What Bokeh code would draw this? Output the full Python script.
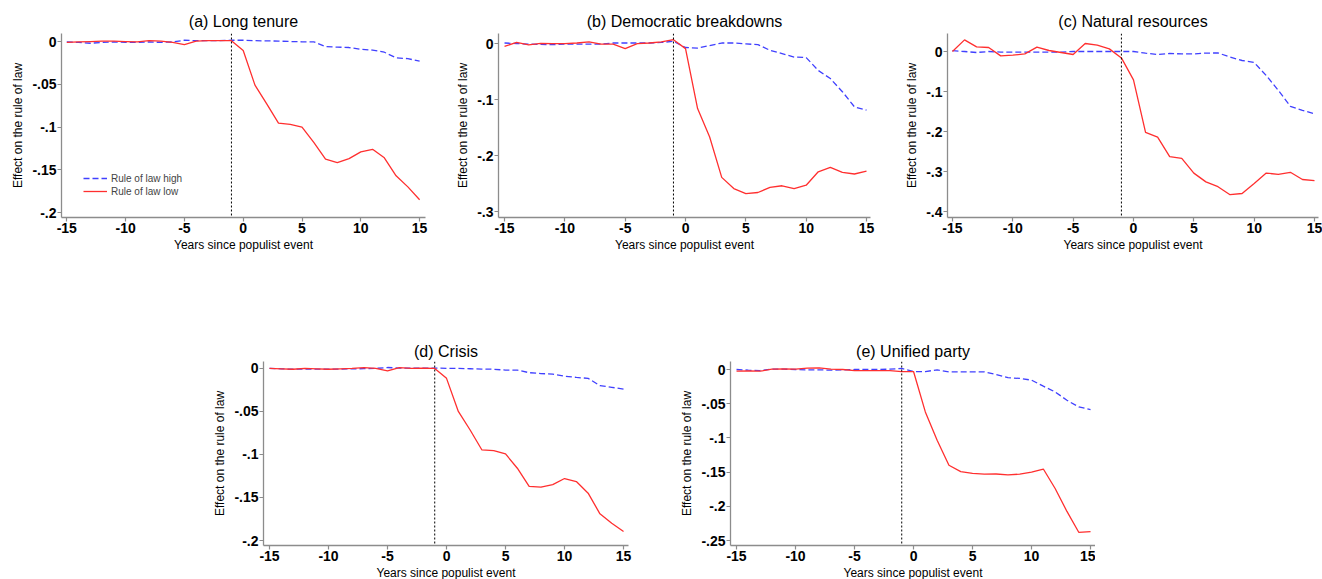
from bokeh.plotting import figure
from bokeh.models import Range1d, FixedTicker, Span, Legend, LegendItem, Spacer
from bokeh.layouts import row, column
from bokeh.embed import file_html
from bokeh.resources import INLINE

years = list(range(-15, 16))

titles = ["(a) Long tenure", "(b) Democratic breakdowns", "(c) Natural resources",
          "(d) Crisis", "(e) Unified party"]

a_high = [-0.0005, -0.001, -0.002, -0.001, -0.0005, -0.001, -0.001, -0.0005, -0.001, -0.0005,
          0.0015, 0.001, 0.001, 0.001, 0.0015, 0.0015, 0.001, 0.0008, 0.0005, 0.0, -0.0003,
          -0.0003, -0.006, -0.0065, -0.007, -0.009, -0.010, -0.0125, -0.019, -0.020, -0.023]
a_low = [-0.001, -0.0005, 0.0, 0.0005, 0.0005, 0.0, -0.0005, 0.001, 0.0005, -0.001,
         -0.0035, 0.0005, 0.001, 0.001, 0.001, -0.0105, -0.051, -0.073, -0.0955, -0.097, -0.100,
         -0.118, -0.1376, -0.1415, -0.137, -0.129, -0.126, -0.136, -0.157, -0.170, -0.185]

b_high = [0.001, 0.0, -0.001, -0.0015, -0.002, -0.001, -0.001, -0.001, -0.001, 0.001,
          0.001, 0.001, 0.001, 0.002, 0.004, -0.007, -0.008, -0.0035, 0.001, 0.001, -0.0005,
          -0.002, -0.012, -0.018, -0.024, -0.025, -0.048, -0.0625, -0.086, -0.113, -0.119]
b_low = [-0.005, 0.002, -0.0025, 0.0005, 0.0, 0.0, 0.001, 0.003, -0.001, -0.001,
         -0.009, 0.0, 0.001, 0.003, 0.007, -0.009, -0.116, -0.167, -0.239, -0.259, -0.268,
         -0.266, -0.257, -0.254, -0.259, -0.253, -0.229, -0.221, -0.230, -0.233, -0.228]

c_high = [0.002, 0.0, -0.0025, 0.0, -0.0015, -0.0015, -0.0015, -0.0015, -0.0015, -0.0015,
          0.0, 0.0, 0.0, 0.0, 0.0, 0.0, -0.004, -0.0075, -0.005, -0.006, -0.006,
          -0.004, -0.0035, -0.014, -0.0225, -0.0275, -0.060, -0.097, -0.137, -0.147, -0.1555]
c_low = [0.0, 0.029, 0.0116, 0.010, -0.011, -0.009, -0.006, 0.011, 0.0025, -0.0025,
         -0.0075, 0.020, 0.016, 0.0066, -0.016, -0.071, -0.202, -0.214, -0.263, -0.267, -0.304,
         -0.326, -0.338, -0.358, -0.355, -0.330, -0.304, -0.307, -0.302, -0.320, -0.323]

d_high = [0.0, -0.0005, -0.001, -0.0008, -0.0008, -0.001, -0.0008, -0.0006, -0.0003, 0.0,
          0.001, 0.0004, 0.0004, 0.0004, 0.0004, 0.0, 0.0, -0.0004, -0.0008, -0.001, -0.002,
          -0.002, -0.005, -0.006, -0.0066, -0.009, -0.0105, -0.0116, -0.020, -0.022, -0.024]
d_low = [0.0, -0.0005, -0.001, 0.0, -0.0005, -0.001, -0.0005, 0.0, 0.001, 0.0,
         -0.003, 0.001, 0.0, 0.0004, 0.0, -0.0116, -0.050, -0.0716, -0.0948, -0.0955, -0.0994,
         -0.116, -0.137, -0.138, -0.135, -0.128, -0.1315, -0.145, -0.169, -0.180, -0.1895]

e_high = [0.0, -0.001, -0.0015, 0.0005, 0.0005, 0.0, -0.0005, -0.0005, -0.001, -0.0005,
          0.0, 0.0, 0.0, 0.0005, 0.0015, -0.003, -0.003, -0.0005, -0.0035, -0.0035, -0.0035,
          -0.0035, -0.0073, -0.012, -0.013, -0.0156, -0.0244, -0.0327, -0.045, -0.0547, -0.0586]
e_low = [-0.0025, -0.002, -0.0025, 0.0005, 0.001, 0.0005, 0.002, 0.0025, 0.0005, 0.0,
         -0.0015, -0.0015, -0.0015, -0.0015, -0.003, -0.003, -0.062, -0.1035, -0.140, -0.1494, -0.152,
         -0.153, -0.1528, -0.154, -0.153, -0.150, -0.1455, -0.174, -0.2075, -0.238, -0.237]

x_ticks = [-15, -10, -5, 0, 5, 10, 15]
y_ticks_a = [0, -0.05, -0.1, -0.15, -0.2]
y_labels_a = ["0", "-.05", "-.1", "-.15", "-.2"]
y_ticks_b = [0, -0.1, -0.2, -0.3]
y_labels_b = ["0", "-.1", "-.2", "-.3"]
y_ticks_c = [0, -0.1, -0.2, -0.3, -0.4]
y_labels_c = ["0", "-.1", "-.2", "-.3", "-.4"]
y_ticks_e = [0, -0.05, -0.1, -0.15, -0.2, -0.25]
y_labels_e = ["0", "-.05", "-.1", "-.15", "-.2", "-.25"]

FONT = "Liberation Sans"
RED = "#ff2f2f"
BLUE = "#4040ff"
AXIS = "#8c8c8c"


def panel(title, high, low, yticks, ylabels, xr, yr, fw, fh, left, right, top, bottom,
          title_standoff=3, legend=False):
    p = figure(output_backend="svg", toolbar_location=None,
               frame_width=fw, frame_height=fh,
               min_border_left=left, min_border_right=right,
               min_border_top=top, min_border_bottom=bottom,
               x_range=Range1d(*xr), y_range=Range1d(*yr),
               title=title)
    p.outline_line_color = None
    p.grid.visible = False
    p.background_fill_color = "white"
    p.border_fill_color = "white"
    p.title.text_font = FONT
    p.title.text_font_size = "16px"
    p.title.text_font_style = "normal"
    p.title.text_color = "black"
    p.title.align = "center"
    p.title.standoff = title_standoff
    p.title.offset = 0

    p.xaxis.ticker = FixedTicker(ticks=x_ticks)
    p.xaxis.major_label_overrides = {t: str(t) for t in x_ticks}
    p.yaxis.ticker = FixedTicker(ticks=yticks)
    p.yaxis.major_label_overrides = {t: l for t, l in zip(yticks, ylabels)}
    p.xaxis.axis_label = "Years since populist event"
    p.yaxis.axis_label = "Effect on the rule of law"
    for ax in (p.xaxis, p.yaxis):
        ax.axis_line_color = AXIS
        ax.axis_line_width = 1.3
        ax.major_tick_line_color = AXIS
        ax.major_tick_line_width = 1.2
        ax.major_tick_out = 4
        ax.major_tick_in = 0
        ax.minor_tick_line_color = None
        ax.major_label_text_font = FONT
        ax.major_label_text_font_size = "14px"
        ax.major_label_text_font_style = "bold"
        ax.major_label_text_color = "black"
        ax.axis_label_text_font = FONT
        ax.axis_label_text_font_size = "12px"
        ax.axis_label_text_font_style = "normal"
        ax.axis_label_text_color = "black"
        ax.major_label_standoff = 1
        ax.axis_label_standoff = 2
    p.yaxis.axis_label_standoff = 4

    p.add_layout(Span(location=-1, dimension="height", line_color="black",
                      line_dash="2 2", line_width=1))
    rh = p.line(years, high, line_color=BLUE, line_width=1.3, line_dash="6 3")
    rl = p.line(years, low, line_color=RED, line_width=1.3)
    if legend:
        lg = Legend(items=[LegendItem(label="Rule of law high", renderers=[rh]),
                           LegendItem(label="Rule of law low", renderers=[rl])],
                    location=(22, 20), orientation="vertical",
                    label_text_font=FONT, label_text_font_size="10px",
                    glyph_width=24, glyph_height=12, label_height=12,
                    label_standoff=4, padding=0, spacing=1, margin=0,
                    background_fill_alpha=0, border_line_alpha=0)
        p.add_layout(lg)
    return p


pa = panel(titles[0], a_high, a_low, y_ticks_a, y_labels_a,
           (-15.45, 15.5), (-0.2058, 0.0094), 364, 184, 61, 20, 33, 40,
           title_standoff=7, legend=True)
pb = panel(titles[1], b_high, b_low, y_ticks_b, y_labels_b,
           (-15.5, 15.33), (-0.3107, 0.018), 372, 184, 53, 24, 33, 40, title_standoff=7)
pc = panel(titles[2], c_high, c_low, y_ticks_c, y_labels_c,
           (-15.41, 15.33), (-0.415, 0.045), 371, 184, 53, 4, 33, 40, title_standoff=7)
pd = panel(titles[3], d_high, d_low, y_ticks_a, y_labels_a,
           (-15.51, 15.42), (-0.2058, 0.008), 365, 184, 53, 49, 25, 34)
pe = panel(titles[4], e_high, e_low, y_ticks_e, y_labels_e,
           (-15.51, 15.42), (-0.2573, 0.0117), 365, 184, 53, 0, 25, 34)

layout = column(row(pa, pb, pc), Spacer(height=79), row(Spacer(width=210), pd, pe))

open("out.html", "w").write(file_html(layout, INLINE))
